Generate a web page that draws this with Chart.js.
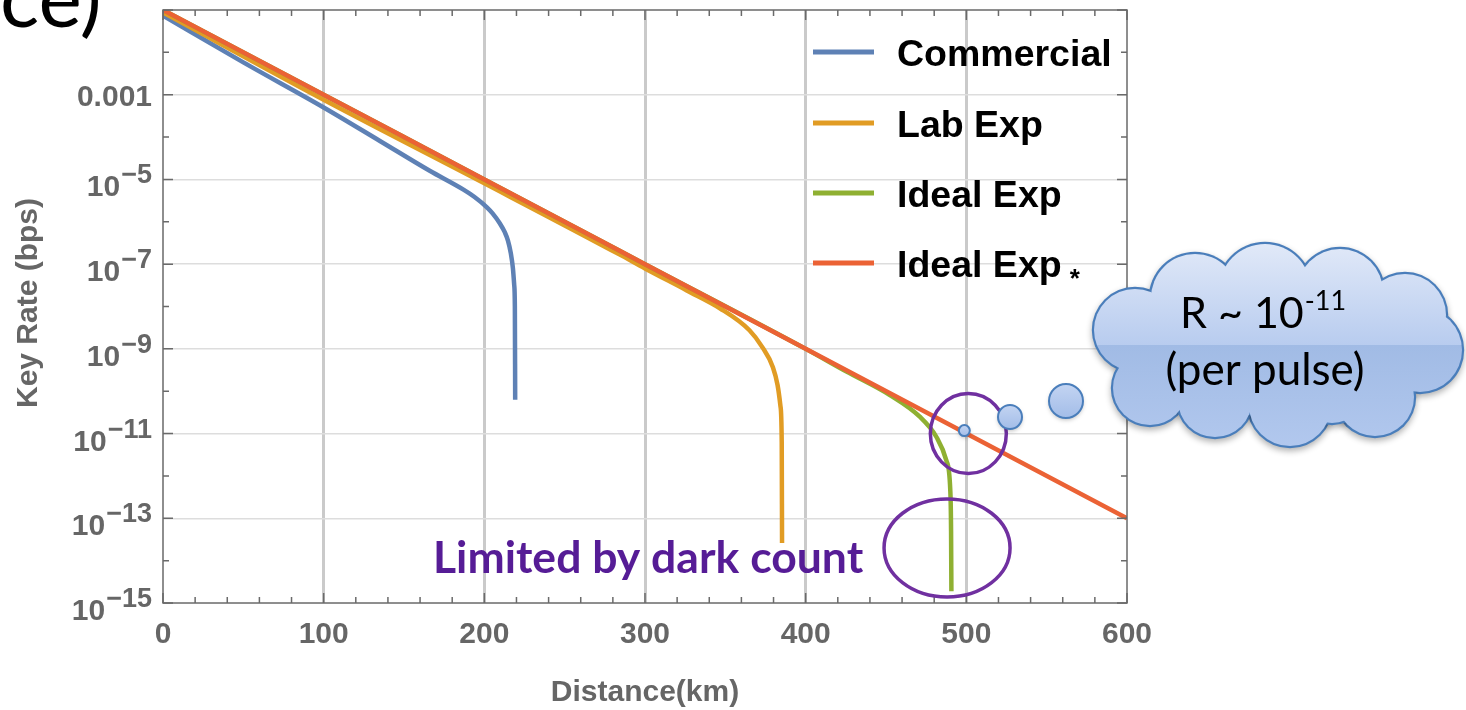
<!DOCTYPE html>
<html>
<head>
<meta charset="utf-8">
<script src="https://cdn.jsdelivr.net/npm/chart.js@4.4.1/dist/chart.umd.min.js"></script>
<style>
  html, body { margin: 0; padding: 0; background: #fff; }
  #wrap { width: 1466px; height: 710px; }
</style>
</head>
<body>
<div id="wrap"><canvas id="keyRateChart" width="1466" height="710"></canvas></div>
<script>
// values (distance in km, key rate in bps)
const commercialKm   = [0, 50, 100, 135, 166, 187, 193.7, 201.6, 205, 209.7, 212.8, 214.7, 216.5, 217.8, 218.6, 219, 219.2];
const commercialRate = [0.074, 5.8e-3, 5.0e-4, 8.1e-5, 1.6e-5, 5.75e-6, 3.9e-6, 2.2e-6, 1.6e-6, 9.1e-7, 5.6e-7, 3.6e-7, 1.8e-7, 7.9e-8, 3.2e-8, 1.0e-8, 6.3e-11];

const labExpKm   = [0, 100, 200, 284, 300, 326, 346.6, 365, 373, 379.6, 382.5, 384.3, 385.1, 385.3];
const labExpRate = [0.087, 7.6e-4, 8.1e-6, 1.7e-7, 7.9e-8, 2.4e-8, 9.1e-9, 2.75e-9, 1.1e-9, 3.7e-10, 1.4e-10, 4.5e-11, 6.3e-12, 2.6e-14];

const idealExpKm   = [0, 100, 200, 300, 400, 425.4, 452.4, 471, 481.4, 487.6, 490, 490.5, 490.7];
const idealExpRate = [0.1, 1e-3, 1e-5, 1e-7, 1e-9, 2.9e-10, 8.1e-11, 2.5e-11, 8.3e-12, 2.3e-12, 4.7e-13, 5e-14, 1.9e-15];

const idealStarKm   = [0, 100, 200, 300, 400, 500, 600];
const idealStarRate = [1e-1, 1e-3, 1e-5, 1e-7, 1e-9, 1e-11, 1e-13];

const seriesNames  = ['Commercial', 'Lab Exp', 'Ideal Exp', 'Ideal Exp'];
const seriesColors = ['#5e81b5', '#e19c24', '#8fb032', '#eb6235'];

const xTickLabels   = [0, 100, 200, 300, 400, 500, 600];
const yTickExponents = [-3, -5, -7, -9, -11, -13, -15];

const AXIS_GREY = '#666666';
const PURPLE = '#7030a0';
const TICK_FONT = 'bold 30px "Liberation Sans", Arial, sans-serif';

function toPoints(xs, ys) {
    return xs.map((x, i) => ({ x: x, y: ys[i] }));
}

function buildDataset(i, xs, ys) {
    return {
        label: seriesNames[i],
        data: toPoints(xs, ys),
        borderColor: seriesColors[i],
        backgroundColor: seriesColors[i],
        borderWidth: 4.5,
        pointRadius: 0,
        cubicInterpolationMode: 'monotone',
        fill: false,
        order: 3 - i   // last series drawn on top, like the original
    };
}

// draws the Mathematica-style frame, inward ticks, labels and legend
const framePlugin = {
    id: 'framePlugin',
    afterDraw(chart) {
        const ctx = chart.ctx;
        const area = chart.chartArea;
        const xs = chart.scales.x;
        const ys = chart.scales.y;

        ctx.save();
        ctx.strokeStyle = '#6a6a6a';
        ctx.lineWidth = 1.5;
        ctx.strokeRect(area.left, area.top, area.right - area.left, area.bottom - area.top);

        // x ticks, every 20 km, bottom and top
        for (let v = 0; v <= 600; v += 20) {
            const px = xs.getPixelForValue(v);
            const len = v % 100 === 0 ? 10 : 6;
            ctx.beginPath();
            ctx.moveTo(px, area.bottom); ctx.lineTo(px, area.bottom - len);
            ctx.moveTo(px, area.top); ctx.lineTo(px, area.top + len);
            ctx.stroke();
        }
        // y ticks, every decade, left and right
        for (let e = -15; e <= -1; e++) {
            const py = ys.getPixelForValue(Math.pow(10, e));
            const len = e % 2 !== 0 ? 10 : 6;
            ctx.beginPath();
            ctx.moveTo(area.left, py); ctx.lineTo(area.left + len, py);
            ctx.moveTo(area.right, py); ctx.lineTo(area.right - len, py);
            ctx.stroke();
        }

        // tick labels
        ctx.fillStyle = AXIS_GREY;
        ctx.font = TICK_FONT;
        ctx.textAlign = 'center';
        ctx.textBaseline = 'alphabetic';
        xTickLabels.forEach(v => {
            ctx.fillText(String(v), xs.getPixelForValue(v), 643);
        });

        const rightEdge = 152;
        yTickExponents.forEach(e => {
            const py = ys.getPixelForValue(Math.pow(10, e));
            ctx.textAlign = 'right';
            if (e === -3) {
                ctx.font = TICK_FONT;
                ctx.fillText('0.001', rightEdge, py + 11);
                return;
            }
            const sup = '\u2212' + Math.abs(e);
            ctx.font = 'bold 27px "Liberation Sans", Arial, sans-serif';
            const supW = ctx.measureText(sup).width;
            ctx.fillText(sup, rightEdge, py + 4);
            ctx.font = TICK_FONT;
            ctx.fillText('10', rightEdge - supW - 1, py + 17);
        });

        // axis titles
        ctx.font = 'bold 30px "Liberation Sans", Arial, sans-serif';
        ctx.textAlign = 'center';
        ctx.fillText('Distance(km)', 645, 701);
        ctx.save();
        ctx.translate(37, 303);
        ctx.rotate(-Math.PI / 2);
        ctx.fillText('Key Rate (bps)', 0, 0);
        ctx.restore();

        // legend inside the plot
        const rowY = [52, 123, 193, 263];
        seriesNames.forEach((name, i) => {
            ctx.strokeStyle = seriesColors[i];
            ctx.lineWidth = 5;
            ctx.beginPath();
            ctx.moveTo(813, rowY[i]);
            ctx.lineTo(874, rowY[i]);
            ctx.stroke();
            ctx.fillStyle = '#000';
            ctx.font = 'bold 37.5px "Liberation Sans", Arial, sans-serif';
            ctx.textAlign = 'left';
            ctx.fillText(name, 897, rowY[i] + 14);
            if (i === 3) {
                const w = ctx.measureText(name).width;
                ctx.font = 'bold 26px "Liberation Sans", Arial, sans-serif';
                ctx.fillText('*', 897 + w + 8, rowY[i] + 24);
            }
        });
        ctx.restore();
    }
};

// callout overlay: circles, cloud and the dark-count note
function drawBubble(ctx, cx, cy, r) {
    ctx.save();
    ctx.shadowColor = 'rgba(0,0,0,0.25)';
    ctx.shadowBlur = 4;
    ctx.shadowOffsetY = 2;
    ctx.beginPath();
    ctx.arc(cx, cy, r, 0, Math.PI * 2);
    const g = ctx.createLinearGradient(0, cy - r, 0, cy + r);
    g.addColorStop(0, '#c3d4f2');
    g.addColorStop(1, '#a3bde8');
    ctx.fillStyle = g;
    ctx.fill();
    ctx.restore();
    ctx.beginPath();
    ctx.arc(cx, cy, r, 0, Math.PI * 2);
    ctx.strokeStyle = '#4a7ebb';
    ctx.lineWidth = 2;
    ctx.stroke();
}

const calloutPlugin = {
    id: 'calloutPlugin',
    afterDraw(chart) {
        const ctx = chart.ctx;
        const xs = chart.scales.x;
        const ys = chart.scales.y;
        ctx.save();

        // clipped heading fragment at the very top left
        ctx.fillStyle = '#000';
        ctx.font = '82px Lato, "Open Sans", sans-serif';
        ctx.textAlign = 'left';
        ctx.fillText('ce)', 0, 27);

        // note
        ctx.fillStyle = '#561c96';
        ctx.font = 'bold 44.5px Lato, "Open Sans", sans-serif';
        ctx.fillText('Limited by dark count', 433, 573);

        // purple ellipses
        ctx.strokeStyle = PURPLE;
        ctx.lineWidth = 3.5;
        const c1x = xs.getPixelForValue(500), c1y = ys.getPixelForValue(1e-11);
        ctx.beginPath();
        ctx.ellipse(c1x + 2, c1y, 38, 40, 0, 0, Math.PI * 2);
        ctx.stroke();
        const c2x = xs.getPixelForValue(488), c2y = ys.getPixelForValue(2e-14);
        ctx.beginPath();
        ctx.ellipse(c2x, c2y, 63, 49, 0, 0, Math.PI * 2);
        ctx.stroke();

        // thought bubbles
        drawBubble(ctx, c1x - 2, c1y - 3, 5.5);
        drawBubble(ctx, 1010, 417, 12);
        drawBubble(ctx, 1066, 401, 17);

        // cloud as a union of circles
        const cloud = [
            [1135, 330, 42], [1150, 388, 38], [1195, 298, 45], [1265, 290, 47],
            [1340, 292, 44], [1405, 315, 42], [1420, 350, 43], [1375, 397, 40],
            [1290, 405, 42], [1215, 400, 38], [1280, 345, 75], [1350, 350, 52],
            [1200, 350, 58], [1332, 388, 36]
        ];
        ctx.save();
        ctx.shadowColor = 'rgba(0,0,0,0.3)';
        ctx.shadowBlur = 6;
        ctx.shadowOffsetY = 3;
        ctx.fillStyle = '#4a7ebb';
        cloud.forEach(c => {
            ctx.beginPath();
            ctx.arc(c[0], c[1], c[2] + 1.2, 0, Math.PI * 2);
            ctx.fill();
        });
        ctx.restore();
        const grad = ctx.createLinearGradient(0, 243, 0, 448);
        grad.addColorStop(0, '#e1e9f8');
        grad.addColorStop(0.5, '#b8ccef');
        grad.addColorStop(0.5, '#a1bbe5');
        grad.addColorStop(1, '#b2c8ee');
        ctx.fillStyle = grad;
        cloud.forEach(c => {
            ctx.beginPath();
            ctx.arc(c[0], c[1], c[2] - 1, 0, Math.PI * 2);
            ctx.fill();
        });

        ctx.fillStyle = '#000';
        ctx.font = '43px Lato, "Open Sans", sans-serif';
        ctx.textAlign = 'left';
        ctx.fillText('R ~ 10', 1180, 328);
        const w = ctx.measureText('R ~ 10').width;
        ctx.font = '27px Lato, "Open Sans", sans-serif';
        ctx.fillText('-11', 1180 + w + 1, 310);
        ctx.font = '44px Lato, "Open Sans", sans-serif';
        ctx.textAlign = 'center';
        ctx.fillText('(per pulse)', 1265, 385);

        ctx.restore();
    }
};

const datasets = [
    buildDataset(0, commercialKm, commercialRate),
    buildDataset(1, labExpKm, labExpRate),
    buildDataset(2, idealExpKm, idealExpRate),
    buildDataset(3, idealStarKm, idealStarRate)
];

const chart = new Chart(document.getElementById('keyRateChart'), {
    type: 'line',
    data: { datasets: datasets },
    options: {
        responsive: false,
        animation: false,
        devicePixelRatio: 1,
        layout: { padding: { left: 163, top: 10, right: 339, bottom: 107 } },
        plugins: {
            legend: { display: false },
            tooltip: { enabled: false }
        },
        scales: {
            x: {
                type: 'linear',
                min: 0,
                max: 600,
                afterBuildTicks: scale => {
                    const ticks = [];
                    for (let v = 0; v <= 600; v += 20) ticks.push({ value: v });
                    scale.ticks = ticks;
                },
                ticks: { display: false },
                border: { display: false },
                grid: {
                    drawTicks: false,
                    lineWidth: 3,
                    color: ctx => {
                        const v = ctx.tick ? ctx.tick.value : 0;
                        return (v % 100 === 0 && v > 0 && v < 600) ? '#cacaca' : 'rgba(0,0,0,0)';
                    }
                }
            },
            y: {
                type: 'logarithmic',
                min: 1e-15,
                max: 1e-1,
                afterBuildTicks: scale => {
                    const ticks = [];
                    for (let e = -15; e <= -1; e++) ticks.push({ value: Math.pow(10, e) });
                    scale.ticks = ticks;
                },
                ticks: { display: false },
                border: { display: false },
                grid: {
                    drawTicks: false,
                    lineWidth: 1.5,
                    color: ctx => {
                        if (!ctx.tick) return 'rgba(0,0,0,0)';
                        const e = Math.round(Math.log10(ctx.tick.value));
                        return (e % 2 !== 0 && e >= -13 && e <= -3) ? '#dddddd' : 'rgba(0,0,0,0)';
                    }
                }
            }
        }
    },
    plugins: [framePlugin, calloutPlugin]
});
</script>
</body>
</html>
